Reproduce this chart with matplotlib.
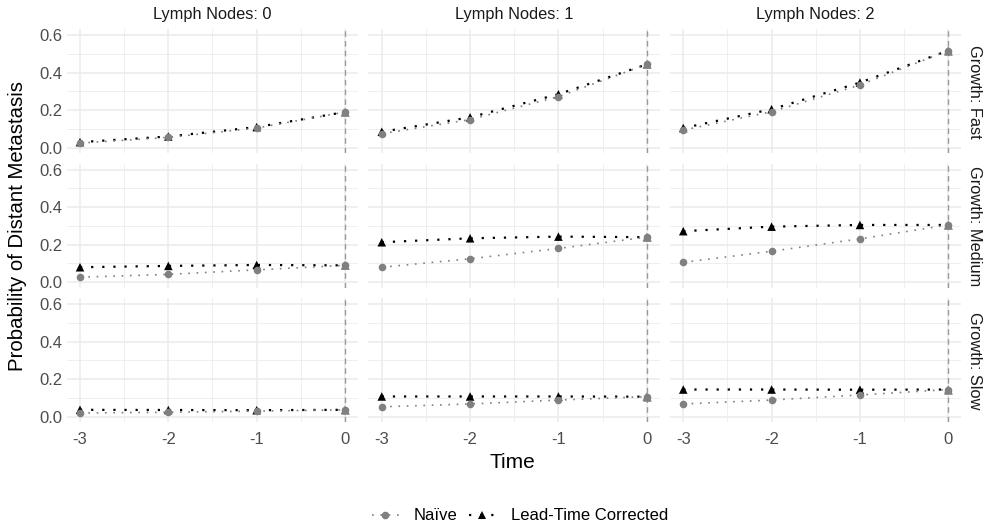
import matplotlib
matplotlib.use("Agg")
import matplotlib.pyplot as plt
from matplotlib.lines import Line2D
import numpy as np

plt.rcParams['font.family'] = ['Liberation Sans', 'DejaVu Sans']

time = [-3, -2, -1, 0]
lymph_nodes = ["0", "1", "2"]
growth = ["Fast", "Medium", "Slow"]

# naive[growth][lymph]
naive_fast = [[0.025, 0.055, 0.105, 0.19],
              [0.075, 0.150, 0.272, 0.444],
              [0.094, 0.192, 0.334, 0.517]]
lt_fast = [[0.030, 0.060, 0.110, 0.19],
           [0.085, 0.162, 0.285, 0.444],
           [0.105, 0.205, 0.347, 0.517]]
naive_medium = [[0.027, 0.042, 0.066, 0.090],
                [0.080, 0.125, 0.180, 0.240],
                [0.106, 0.165, 0.231, 0.305]]
lt_medium = [[0.080, 0.087, 0.092, 0.090],
             [0.213, 0.234, 0.243, 0.240],
             [0.272, 0.296, 0.305, 0.305]]
naive_slow = [[0.020, 0.024, 0.030, 0.037],
              [0.053, 0.068, 0.089, 0.107],
              [0.068, 0.089, 0.116, 0.145]]
lt_slow = [[0.037, 0.036, 0.035, 0.037],
           [0.108, 0.108, 0.108, 0.107],
           [0.145, 0.145, 0.144, 0.145]]

naive = [naive_fast, naive_medium, naive_slow]
lt = [lt_fast, lt_medium, lt_slow]

W, H = 987, 526
fig = plt.figure(figsize=(W / 100, H / 100), dpi=100)

col_left = [66.75, 368.5, 670.0]
col_w = 291.5
row_top = [29.4, 163.9, 298.4]
row_h = 124.0

GRID = "#EBEBEB"
NAIVE_C = "#808080"
LT_C = "#000000"
TICK_C = "#4D4D4D"
STRIP_C = "#1A1A1A"

for r in range(3):
    for c in range(3):
        ax = fig.add_axes([col_left[c] / W, 1 - (row_top[r] + row_h) / H,
                           col_w / W, row_h / H])
        ax.set_xlim(-3.15, 0.15)
        ax.set_ylim(-0.03, 0.63)
        for s in ax.spines.values():
            s.set_visible(False)
        ax.set_xticks(time)
        ax.set_yticks([0.0, 0.2, 0.4, 0.6])
        ax.set_xticks([-2.5, -1.5, -0.5], minor=True)
        ax.set_yticks([0.1, 0.3, 0.5], minor=True)
        ax.grid(True, which='major', color=GRID, linewidth=1.1)
        ax.grid(True, which='minor', color=GRID, linewidth=0.55)
        ax.set_axisbelow(True)
        ax.tick_params(which='both', length=0, colors=TICK_C, labelsize=12)
        if c == 0:
            ax.set_yticklabels(["0.0", "0.2", "0.4", "0.6"])
        else:
            ax.set_yticklabels([])
        if r == 2:
            ax.set_xticklabels(["-3", "-2", "-1", "0"])
        else:
            ax.set_xticklabels([])
        ax.tick_params(axis='y', pad=3)
        ax.tick_params(axis='x', pad=7)

        ax.axvline(0, color="#999999", linestyle=(0, (4, 3)), linewidth=1.0, zorder=1)

        ax.plot(time, lt[r][c], color=LT_C, linestyle=(0, (1, 4)), linewidth=1.6, zorder=2)
        ax.plot(time, naive[r][c], color=NAIVE_C, linestyle=(0, (1, 4)), linewidth=1.2, zorder=2)
        tri_colors = [LT_C, LT_C, LT_C, NAIVE_C]
        ax.scatter(time, lt[r][c], marker='^', s=38, c=tri_colors, linewidths=0, zorder=3)
        ax.scatter(time, naive[r][c], marker='o', s=30, c=NAIVE_C, linewidths=0, zorder=4)
        ax.scatter(time[-1:], lt[r][c][-1:], marker='^', s=38, c=NAIVE_C, linewidths=0, zorder=5)

        if r == 0:
            fig.text((col_left[c] + col_w / 2) / W, 1 - 14 / H, "Lymph Nodes: " + lymph_nodes[c],
                     ha='center', va='center', fontsize=11.8, color=STRIP_C)
        if c == 2:
            fig.text(975 / W, 1 - (row_top[r] + row_h / 2) / H, "Growth: " + growth[r],
                     ha='center', va='center', rotation=270, fontsize=11.8, color=STRIP_C)

fig.text(18 / W, 1 - 226 / H, "Probability of Distant Metastasis", rotation=90,
         ha='center', va='center', fontsize=14.7, color="black")
fig.text(512 / W, 1 - 462 / H, "Time", ha='center', va='center', fontsize=15, color="black")

handles = [
    Line2D([0], [0], color=NAIVE_C, linestyle=(0, (1, 4)), linewidth=1.2,
           marker='o', markersize=5.5, markeredgewidth=0),
    Line2D([0], [0], color=LT_C, linestyle=(0, (1, 4)), linewidth=1.6,
           marker='^', markersize=6, markeredgewidth=0),
]
fig.legend(handles, ["Naïve", "Lead-Time Corrected"], loc='center',
           bbox_to_anchor=(520 / W, 1 - 516 / H), ncol=2, frameon=False,
           fontsize=12, handlelength=1.6, columnspacing=0.7, handletextpad=0.9)

fig.savefig("out.png", dpi=100, facecolor="white")
